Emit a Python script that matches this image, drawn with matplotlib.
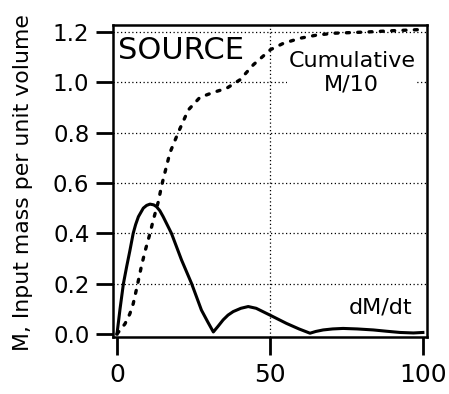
import matplotlib
matplotlib.use('Agg')
from matplotlib import pyplot as plt

# dM/dt (solid)
rate_t = [0, 1.0, 2.1, 3.2, 4.2, 5.3, 6.1, 7.0, 8.6, 9.7, 10.8, 12.0, 12.9, 14.0, 15.1,
          17.8, 21.1, 24.4, 27.6, 29.8, 31.5, 33.0, 34.7, 36.3, 38.0, 40.5, 42.9, 45.5,
          50.0, 55.4, 59.5, 63.1, 65.0, 67.4, 70.5, 73.9, 78.5, 83.8, 88.0, 92.5,
          96.9, 100]
rate_m = [0, 0.10, 0.20, 0.27, 0.33, 0.40, 0.435, 0.466, 0.50, 0.511, 0.516, 0.513,
          0.506, 0.49, 0.466, 0.40, 0.294, 0.20, 0.095, 0.045, 0.008, 0.03, 0.056,
          0.075, 0.089, 0.102, 0.109, 0.102, 0.075, 0.042, 0.02, 0.003, 0.01, 0.016,
          0.02, 0.022, 0.02, 0.016, 0.011, 0.006, 0.004, 0.006]

# cumulative M/10 (dotted)
cum_t = [0, 2.6, 4.2, 5.3, 6.6, 8.0, 9.2, 10.8, 11.8, 13.5, 14.6, 17.3, 20, 23.3,
         27.1, 31.5, 35.8, 40.2, 44.6, 50.2, 54.4, 59.8, 65, 70.7, 81.7, 90, 100]
cum_m = [0, 0.04, 0.08, 0.12, 0.19, 0.27, 0.33, 0.40, 0.45, 0.525, 0.59, 0.72, 0.80,
         0.89, 0.94, 0.96, 0.976, 1.01, 1.07, 1.13, 1.155, 1.175, 1.187, 1.195, 1.20,
         1.205, 1.21]

x_ticks = [0, 50, 100]
y_ticks = [0.0, 0.2, 0.4, 0.6, 0.8, 1.0, 1.2]
y_tick_labels = ['0.0', '0.2', '0.4', '0.6', '0.8', '1.0', '1.2']

plt.rcParams['font.family'] = ['DejaVu Sans']

fig = plt.figure(figsize=(4.49, 3.94), dpi=100)
ax = fig.add_axes([0.2517, 0.1447, 0.699, 0.792])

# dotted grid, drawn by hand so only the wanted lines show
for y in y_ticks[1:]:
  ax.axhline(y, color='black', linestyle=(0, (1.0, 2.0)), linewidth=0.9, zorder=1)
ax.axvline(50, color='black', linestyle=(0, (1.0, 2.0)), linewidth=0.9, zorder=1)

ax.plot(rate_t, rate_m, color='black', linewidth=2.2, zorder=4,
        solid_joinstyle='round')
ax.plot(cum_t, cum_m, color='black', linewidth=2.4, linestyle=(0, (0.9, 2.5)),
        dash_capstyle='round', zorder=4)

box = dict(facecolor='white', edgecolor='none', pad=1)
ax.text(0.015, 0.965, 'SOURCE', transform=ax.transAxes, fontsize=22,
        ha='left', va='top', bbox=box, zorder=3)
ax.text(0.761, 0.846, 'Cumulative\nM/10', transform=ax.transAxes, fontsize=16,
        ha='center', va='center', linespacing=1.2, bbox=box, zorder=3)
ax.text(0.955, 0.096, 'dM/dt', transform=ax.transAxes, fontsize=16,
        ha='right', va='center', zorder=3)

ax.set_xlim(-1.3, 101.3)
ax.set_ylim(-0.012, 1.228)
ax.set_xticks(x_ticks)
ax.set_yticks(y_ticks)
ax.set_yticklabels(y_tick_labels)
ax.tick_params(axis='y', direction='out', length=12, width=2, labelsize=16.5, pad=5)
ax.tick_params(axis='x', direction='out', length=13, width=2, labelsize=18, pad=6)
for s in ax.spines.values():
  s.set_linewidth(1.8)

ax.set_ylabel('M, Input mass per unit volume', fontsize=15.8, labelpad=3)
ax.yaxis.set_label_coords(-0.255, 0.495)

fig.savefig('out.png', dpi=100)
